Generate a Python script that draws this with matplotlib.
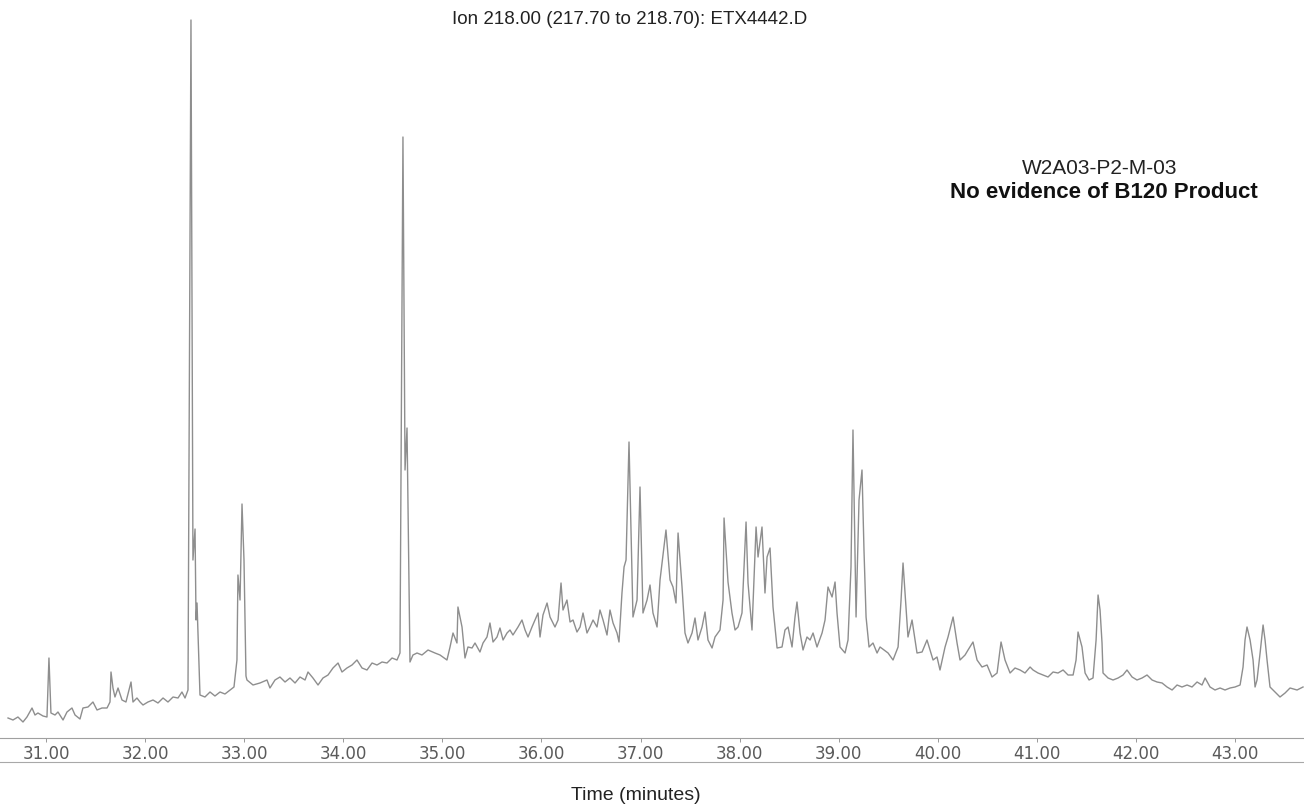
import matplotlib.pyplot as plt
from matplotlib.lines import Line2D

plt.rcParams['font.family'] = ['Liberation Sans', 'DejaVu Sans']

# extracted ion chromatogram, m/z 218 (retention time in minutes, abundance)
rt = [30.617, 30.667, 30.717, 30.768, 30.808, 30.859, 30.889, 30.919, 30.970, 31.010,
      31.030, 31.050, 31.091, 31.121, 31.172, 31.212, 31.262, 31.293, 31.343, 31.373,
      31.424, 31.474, 31.515, 31.565, 31.616, 31.646, 31.656, 31.676, 31.696, 31.727,
      31.767, 31.807, 31.858, 31.878, 31.918, 31.949, 31.979, 32.029, 32.080, 32.130,
      32.181, 32.231, 32.282, 32.332, 32.372, 32.403, 32.433, 32.463, 32.483, 32.504,
      32.514, 32.524, 32.554, 32.604, 32.655, 32.705, 32.756, 32.806, 32.857, 32.897,
      32.927, 32.937, 32.958, 32.978, 32.998, 33.018, 33.028, 33.089, 33.159, 33.230,
      33.260, 33.311, 33.361, 33.412, 33.462, 33.513, 33.563, 33.614, 33.644, 33.694,
      33.745, 33.795, 33.846, 33.896, 33.947, 33.987, 34.037, 34.088, 34.138, 34.189,
      34.239, 34.290, 34.340, 34.391, 34.441, 34.492, 34.542, 34.572, 34.602, 34.623,
      34.643, 34.673, 34.703, 34.744, 34.794, 34.855, 34.925, 34.976, 35.046, 35.077,
      35.107, 35.147, 35.157, 35.198, 35.228, 35.258, 35.299, 35.329, 35.379, 35.410,
      35.450, 35.480, 35.511, 35.551, 35.581, 35.612, 35.652, 35.682, 35.712, 35.763,
      35.803, 35.834, 35.864, 35.904, 35.934, 35.965, 35.985, 36.015, 36.056, 36.086,
      36.136, 36.167, 36.197, 36.217, 36.257, 36.288, 36.318, 36.358, 36.389, 36.419,
      36.459, 36.489, 36.520, 36.560, 36.590, 36.621, 36.661, 36.691, 36.722, 36.762,
      36.782, 36.812, 36.833, 36.853, 36.883, 36.903, 36.923, 36.964, 36.994, 37.024,
      37.065, 37.095, 37.125, 37.166, 37.196, 37.256, 37.297, 37.327, 37.357, 37.378,
      37.418, 37.448, 37.478, 37.519, 37.549, 37.579, 37.620, 37.650, 37.680, 37.721,
      37.751, 37.801, 37.832, 37.842, 37.882, 37.922, 37.953, 37.983, 38.023, 38.064,
      38.084, 38.124, 38.165, 38.185, 38.225, 38.255, 38.276, 38.306, 38.336, 38.377,
      38.427, 38.457, 38.488, 38.528, 38.558, 38.578, 38.609, 38.639, 38.679, 38.710,
      38.740, 38.780, 38.831, 38.861, 38.891, 38.932, 38.962, 38.982, 39.012, 39.063,
      39.093, 39.123, 39.143, 39.174, 39.204, 39.234, 39.254, 39.275, 39.305, 39.345,
      39.386, 39.416, 39.456, 39.497, 39.547, 39.598, 39.628, 39.648, 39.678, 39.698,
      39.739, 39.789, 39.840, 39.890, 39.920, 39.951, 39.991, 40.021, 40.072, 40.102,
      40.153, 40.193, 40.223, 40.274, 40.304, 40.354, 40.395, 40.445, 40.496, 40.546,
      40.597, 40.637, 40.677, 40.728, 40.778, 40.829, 40.879, 40.930, 40.960, 41.010,
      41.061, 41.111, 41.162, 41.212, 41.263, 41.313, 41.364, 41.394, 41.414, 41.454,
      41.485, 41.525, 41.565, 41.596, 41.616, 41.636, 41.656, 41.666, 41.717, 41.767,
      41.818, 41.868, 41.908, 41.959, 42.009, 42.060, 42.110, 42.161, 42.211, 42.262,
      42.312, 42.363, 42.413, 42.463, 42.514, 42.564, 42.615, 42.665, 42.696, 42.746,
      42.796, 42.847, 42.897, 42.948, 42.998, 43.049, 43.079, 43.099, 43.119, 43.150,
      43.180, 43.200, 43.220, 43.251, 43.281, 43.301, 43.321, 43.351, 43.402, 43.452,
      43.503, 43.553, 43.624, 43.684]

abundance = [20, 18, 21, 16, 21, 30, 23, 25, 22, 21,
             80, 25, 23, 26, 18, 26, 30, 23, 19, 30,
             31, 36, 28, 30, 30, 36, 66, 50, 41, 50,
             38, 36, 56, 36, 40, 36, 33, 36, 38, 35,
             40, 36, 41, 40, 46, 40, 48, 718, 178, 209,
             118, 135, 43, 41, 46, 42, 46, 44, 48, 51,
             78, 163, 138, 234, 178, 62, 58, 53, 55, 58,
             50, 58, 61, 56, 60, 55, 61, 58, 66, 60,
             53, 60, 63, 70, 75, 66, 70, 73, 78, 70,
             68, 75, 73, 76, 75, 80, 78, 85, 601, 268,
             310, 76, 83, 85, 83, 88, 85, 83, 78, 91,
             105, 95, 131, 111, 80, 91, 90, 95, 86, 95,
             101, 115, 96, 101, 110, 98, 105, 108, 103, 111,
             118, 108, 101, 111, 118, 125, 101, 123, 135, 121,
             111, 118, 155, 128, 138, 116, 118, 106, 111, 125,
             105, 111, 118, 111, 128, 118, 103, 128, 115, 105,
             96, 145, 171, 178, 296, 208, 121, 138, 251, 125,
             138, 153, 125, 111, 158, 208, 158, 151, 135, 205,
             151, 105, 95, 105, 120, 98, 111, 126, 98, 90,
             101, 108, 138, 220, 156, 125, 108, 111, 125, 216,
             155, 108, 211, 181, 211, 145, 181, 190, 131, 90,
             91, 108, 111, 91, 121, 136, 105, 88, 101, 98,
             105, 91, 105, 118, 151, 141, 156, 125, 91, 85,
             98, 171, 308, 121, 238, 268, 188, 121, 91, 95,
             85, 91, 88, 85, 78, 91, 138, 175, 131, 101,
             118, 85, 86, 98, 88, 78, 81, 68, 91, 101,
             121, 95, 78, 83, 88, 96, 78, 71, 73, 61,
             65, 96, 78, 65, 70, 68, 65, 71, 68, 65,
             63, 61, 66, 65, 68, 63, 63, 78, 106, 91,
             65, 58, 60, 98, 143, 128, 95, 65, 60, 58,
             60, 63, 68, 61, 58, 60, 63, 58, 56, 55,
             51, 48, 53, 51, 53, 51, 56, 53, 60, 51,
             48, 50, 48, 50, 51, 53, 71, 98, 111, 98,
             78, 51, 58, 85, 113, 98, 78, 51, 46, 41,
             45, 50, 48, 51]

tick_times = [31, 32, 33, 34, 35, 36, 37, 38, 39, 40, 41, 42, 43]

W, H = 1304, 807
fig = plt.figure(figsize=(W / 100, H / 100), dpi=100)
ax = fig.add_axes([0, 69 / H, 1, 738 / H])

ax.plot(rt, abundance, color='#8e8e8e', lw=1.0)
ax.set_xlim(30.536, 43.694)
ax.set_ylim(0, 738)

for side in ['top', 'left', 'right']:
    ax.spines[side].set_visible(False)
ax.spines['bottom'].set_color('#a0a0a0')
ax.spines['bottom'].set_linewidth(0.8)
ax.set_yticks([])
ax.set_xticks(tick_times)
ax.set_xticklabels(['%.2f' % t for t in tick_times])
ax.tick_params(axis='x', direction='out', length=3, width=0.7, color='#999999',
               labelsize=12, labelcolor='#5a5a5a', pad=2)
for lbl in ax.get_xticklabels():
    lbl.set_family('DejaVu Sans')

# lower rule closing the time scale strip
fig.add_artist(Line2D([0, 1], [1 - 762 / H, 1 - 762 / H], transform=fig.transFigure,
                      color='#a8a8a8', lw=0.8))

fig.text(630 / W, 1 - 19 / H, 'Ion 218.00 (217.70 to 218.70): ETX4442.D',
         ha='center', va='center', fontsize=13.5, color='#222222')
fig.text(1100 / W, 1 - 168 / H, 'W2A03-P2-M-03', ha='center', va='center',
         fontsize=15, color='#222222')
fig.text(1104 / W, 1 - 193 / H, 'No evidence of B120 Product', ha='center',
         va='center', fontsize=16, fontweight='bold', color='#111111')
fig.text(636 / W, 1 - 795 / H, 'Time (minutes)', ha='center', va='center',
         fontsize=14, color='#222222')

fig.savefig('out.png', dpi=100)
